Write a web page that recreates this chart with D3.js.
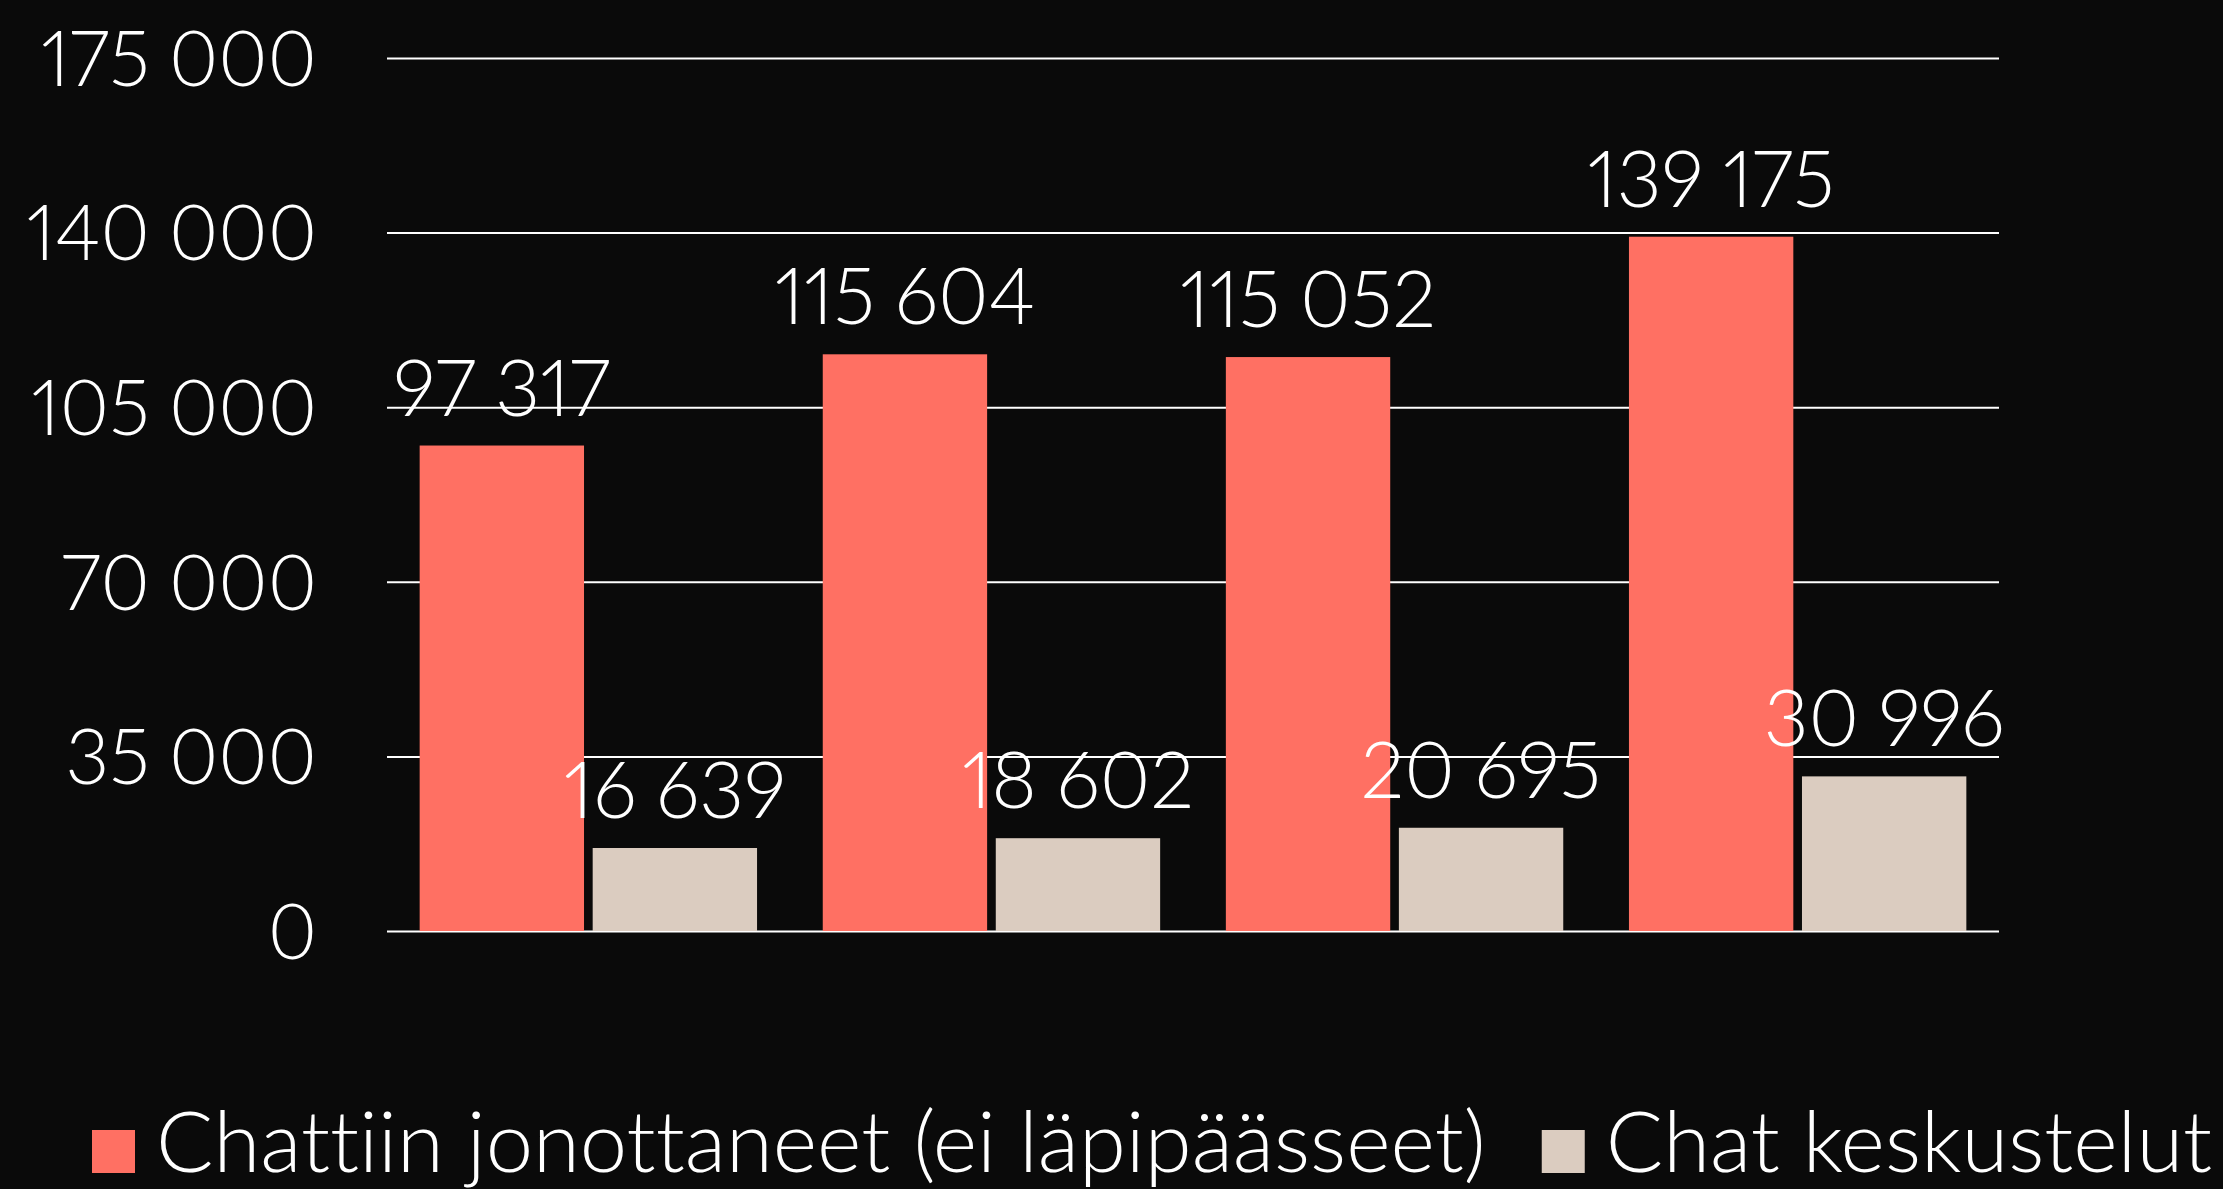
<!DOCTYPE html>
<html>
<head>
<meta charset="utf-8">
<script src="https://cdn.jsdelivr.net/npm/d3@7"></script>
<style>
  html, body { margin: 0; padding: 0; background: #0a0a0a; }
  svg { display: block; }
  text { font-family: Lato, "Open Sans", sans-serif; font-weight: 300; fill: #fff;
         font-variant-ligatures: none; font-variant-numeric: proportional-nums; }
</style>
</head>
<body>
<svg id="chart"></svg>
<script>
const [w, h] = [2223, 1189];
const margin = {top: 58, right: 224, bottom: 258, left: 387};

// data
const categories = ['1', '2', '3', '4'];
const seriesNames = ['Chattiin jonottaneet (ei läpipäässeet)', 'Chat keskustelut'];
const queued = [97317, 115604, 115052, 139175];
const chats = [16639, 18602, 20695, 30996];
const yTicks = [0, 35000, 70000, 105000, 140000, 175000];
const colors = ['#ff7063', '#dbccc0'];

const fi = d3.formatLocale({decimal: ',', thousands: '\u2005', grouping: [3], currency: ['', ' €']});
const fmt = fi.format(',d');

const svg = d3.select('#chart')
    .attr('width', w)
    .attr('height', h);

svg.append('rect').attr('width', w).attr('height', h).attr('fill', '#0a0a0a');

const plotW = w - margin.left - margin.right;
const plotH = h - margin.top - margin.bottom;

const g = svg.append('g').attr('transform', `translate(${margin.left}, ${margin.top})`);

const yScale = d3.scaleLinear()
    .domain([0, 175000])
    .range([plotH, 0]);

const x0 = d3.scaleBand()
    .domain(categories)
    .range([0, plotW])
    .paddingInner(0.163)
    .paddingOuter(0.081);

const x1 = d3.scaleBand()
    .domain(seriesNames)
    .range([0, x0.bandwidth()])
    .paddingInner(0.05);

const yAxis = d3.axisLeft(yScale)
    .tickValues(yTicks)
    .tickFormat(fmt)
    .tickSize(-plotW)
    .tickPadding(70);

const ax = g.append('g').call(yAxis);
ax.select('.domain').remove();
ax.selectAll('.tick line').attr('stroke', '#fff').attr('stroke-width', 2);
ax.selectAll('.tick text')
    .attr('fill', '#fff')
    .style('font-family', 'Lato, sans-serif')
    .style('font-weight', 300)
    .style('font-size', '76px')
    .attr('dy', '0.36em');

const rows = categories.map((c, i) => ({cat: c, values: [queued[i], chats[i]]}));

const groups = g.selectAll('.grp')
    .data(rows)
    .enter()
    .append('g')
        .attr('class', 'grp')
        .attr('transform', d => `translate(${x0(d.cat)}, 0)`);

groups.selectAll('rect')
    .data(d => d.values.map((v, j) => ({name: seriesNames[j], value: v, j: j})))
    .enter()
    .append('rect')
        .attr('x', d => x1(d.name))
        .attr('y', d => yScale(d.value))
        .attr('width', x1.bandwidth())
        .attr('height', d => plotH - yScale(d.value))
        .attr('fill', d => colors[d.j]);

groups.selectAll('.lbl')
    .data(d => d.values.map((v, j) => ({name: seriesNames[j], value: v, j: j})))
    .enter()
    .append('text')
        .attr('class', 'lbl')
        .attr('x', d => x1(d.name) + x1.bandwidth() / 2)
        .attr('y', d => yScale(d.value) - 30)
        .attr('text-anchor', 'middle')
        .style('font-size', '78px')
        .text(d => fmt(d.value));

// legend
const legend = svg.append('g').attr('transform', 'translate(92, 1172)');
let lx = 0;
seriesNames.forEach((name, j) => {
    const item = legend.append('g').attr('transform', `translate(${lx}, 0)`);
    item.append('rect')
        .attr('x', 0)
        .attr('y', -42)
        .attr('width', 43)
        .attr('height', 43)
        .attr('fill', colors[j]);
    const t = item.append('text')
        .attr('x', 64)
        .attr('y', 0)
        .style('font-size', '85px')
        .text(name);
    lx += 64 + t.node().getComputedTextLength() + 56;
});
</script>
</body>
</html>
